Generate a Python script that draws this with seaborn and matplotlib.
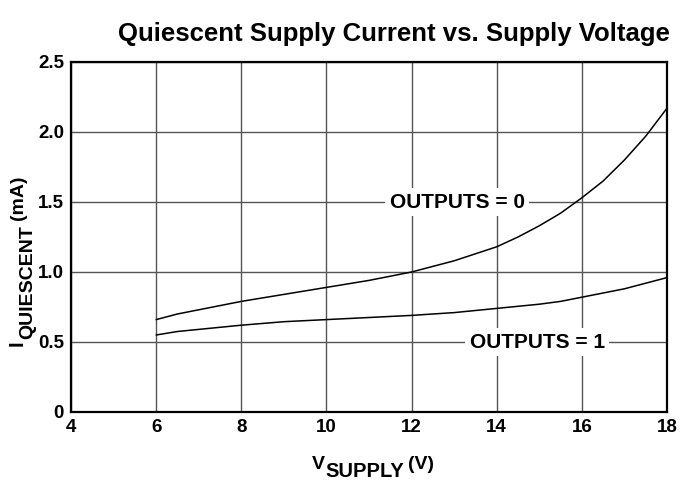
import numpy as np
import pandas as pd
import matplotlib
matplotlib.use("Agg")
import matplotlib.pyplot as plt
import seaborn as sns

# values
v_out0 = [6, 6.5, 7, 8, 9, 10, 11, 12, 13, 13.5, 14, 14.5, 15, 15.5, 16, 16.5, 17, 17.5, 18]
iq_out0 = [0.66, 0.70, 0.73, 0.79, 0.84, 0.89, 0.94, 1.00, 1.08, 1.13, 1.18, 1.25, 1.33,
           1.42, 1.53, 1.65, 1.80, 1.97, 2.17]
v_out1 = [6, 6.5, 7, 8, 9, 10, 11, 12, 13, 14, 15, 15.5, 16, 16.5, 17, 17.5, 18]
iq_out1 = [0.55, 0.575, 0.59, 0.62, 0.645, 0.66, 0.675, 0.69, 0.71, 0.74, 0.77, 0.79,
           0.82, 0.85, 0.88, 0.92, 0.96]
xticks = [4, 6, 8, 10, 12, 14, 16, 18]
yticks = [0, 0.5, 1.0, 1.5, 2.0, 2.5]
ytick_labels = ['0', '0.5', '1.0', '1.5', '2.0', '2.5']

sns.set_style('white')
plt.rcParams['font.family'] = ['Liberation Sans', 'DejaVu Sans']
plt.rcParams['text.color'] = 'black'
plt.rcParams['xtick.color'] = 'black'
plt.rcParams['ytick.color'] = 'black'

df = pd.DataFrame({
    'V': v_out0 + v_out1,
    'I': iq_out0 + iq_out1,
    'state': ['OUTPUTS = 0'] * len(v_out0) + ['OUTPUTS = 1'] * len(v_out1),
})

W, H = 681, 482
fig = plt.figure(figsize=(W / 100, H / 100), dpi=100)
ax = fig.add_axes([71 / W, 70 / H, 596 / W, 350 / H])

sns.lineplot(data=df, x='V', y='I', units='state', estimator=None,
             color='black', linewidth=1.1, ax=ax, zorder=3)

ax.set_xlim(4, 18)
ax.set_ylim(0, 2.5)
ax.set_xticks(xticks)
ax.set_yticks(yticks)
ax.set_yticklabels(ytick_labels)
ax.grid(True, color='#555555', linewidth=1.0)
ax.tick_params(length=0, labelsize=13.5, pad=5, labelcolor='black')
for lab in ax.get_xticklabels() + ax.get_yticklabels():
    lab.set_fontweight('bold')
for sp in ax.spines.values():
    sp.set_linewidth(1.6)
    sp.set_color('black')
ax.set_xlabel('')
ax.set_ylabel('')

box = dict(facecolor='white', edgecolor='none', pad=3)
ax.text(13.07, 1.5, 'OUTPUTS = 0', ha='center', va='center', fontsize=15,
        fontweight='bold', color='black', bbox=box, zorder=4)
ax.text(14.95, 0.5, 'OUTPUTS = 1', ha='center', va='center', fontsize=15,
        fontweight='bold', color='black', bbox=box, zorder=4)

fig.text(394 / W, (H - 41) / H, 'Quiescent Supply Current vs. Supply Voltage',
         ha='center', va='baseline', fontsize=18.5, fontweight='bold', color='black')

# axis labels with subscripts, built piece by piece (pixel coords from bottom-left)
fig.canvas.draw()
renderer = fig.canvas.get_renderer()


def place_parts(parts, start, base, vertical=False):
    cur = start
    for s, size, off, gap in parts:
        cur += gap
        if vertical:
            t = fig.text((base + off) / W, cur / H, s, rotation=90, rotation_mode='anchor',
                         ha='left', va='baseline', fontsize=size, fontweight='bold',
                         color='black')
            cur += t.get_window_extent(renderer).height
        else:
            t = fig.text(cur / W, (base - off) / H, s, ha='left', va='baseline',
                         fontsize=size, fontweight='bold', color='black')
            cur += t.get_window_extent(renderer).width


place_parts([('V', 14, 0, 0), ('SUPPLY', 14.5, 8, 0), ('(V)', 14, 0, 4)],
            start=312, base=13)
place_parts([('I', 14.5, 0, 0), ('QUIESCENT', 14, 9, 1), ('(mA)', 14, 0, 5)],
            start=136, base=23, vertical=True)

fig.savefig('out.png', dpi=100)
